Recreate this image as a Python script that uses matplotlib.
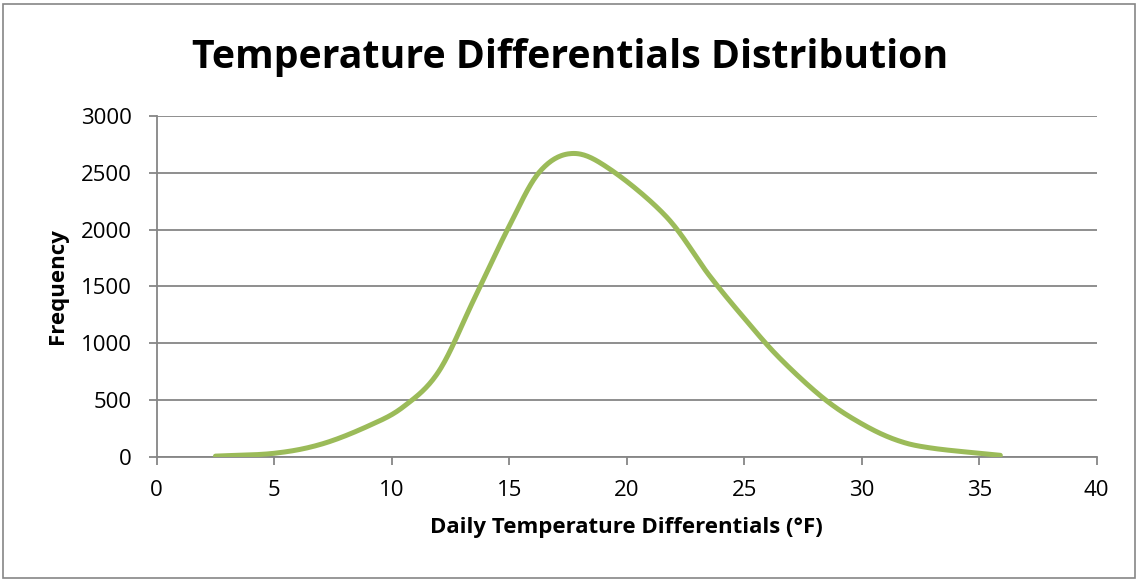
import numpy as np
import matplotlib
matplotlib.use("Agg")
import matplotlib.pyplot as plt
from matplotlib.patches import Rectangle

# Data
temp_diff = [2.5, 5, 7, 9, 10.5, 12, 13.5, 15, 16.3, 17.7, 19.3, 21.7,
             23.5, 25, 26.5, 28.4, 30, 31.5, 33, 35.9]
frequency = [5, 30, 110, 270, 440, 750, 1385, 2030, 2510, 2670, 2530, 2110,
             1600, 1220, 870, 510, 290, 145, 75, 12]
x_ticks = [0, 5, 10, 15, 20, 25, 30, 35, 40]
y_ticks = [0, 500, 1000, 1500, 2000, 2500, 3000]


def catmull_rom(xs, ys, n=30):
    xs = np.asarray(xs, float)
    ys = np.asarray(ys, float)
    px = np.concatenate([[2 * xs[0] - xs[1]], xs, [2 * xs[-1] - xs[-2]]])
    py = np.concatenate([[2 * ys[0] - ys[1]], ys, [2 * ys[-1] - ys[-2]]])
    outx, outy = [], []
    t = np.linspace(0, 1, n, endpoint=False)
    for i in range(1, len(px) - 2):
        for arr, out in ((px, outx), (py, outy)):
            p0, p1, p2, p3 = arr[i - 1], arr[i], arr[i + 1], arr[i + 2]
            out.extend(0.5 * ((2 * p1) + (-p0 + p2) * t
                              + (2 * p0 - 5 * p1 + 4 * p2 - p3) * t ** 2
                              + (-p0 + 3 * p1 - 3 * p2 + p3) * t ** 3))
    outx.append(xs[-1])
    outy.append(ys[-1])
    return np.array(outx), np.array(outy)


plt.rcParams['font.family'] = ['Open Sans', 'DejaVu Sans']

fig = plt.figure(figsize=(11.38, 5.8), dpi=100)
ax = fig.add_axes([0.1377, 0.2126, 0.8260, 0.5874])

sx, sy = catmull_rom(temp_diff, frequency)
ax.plot(sx, sy, color='#9BBB59', lw=3.6, solid_capstyle='round', zorder=3)

ax.set_xlim(0, 40)
ax.set_ylim(0, 3000)
ax.set_xticks(x_ticks)
ax.set_yticks(y_ticks)
ax.grid(axis='y', color='#868686', lw=1.3)
ax.set_axisbelow(True)
for s in ['top', 'right']:
    ax.spines[s].set_visible(False)
for s in ['left', 'bottom']:
    ax.spines[s].set_color('#868686')
    ax.spines[s].set_linewidth(1.3)
ax.tick_params(axis='both', colors='#868686', length=6, width=1.3,
               labelcolor='black', labelsize=16)
ax.tick_params(axis='x', pad=11)
ax.tick_params(axis='y', pad=12)

ax.set_xlabel('Daily Temperature Differentials (°F)', fontsize=16,
              fontweight='bold')
ax.xaxis.set_label_coords(0.5, -0.224)
ax.xaxis.label.set_verticalalignment('baseline')
ax.set_ylabel('Frequency', fontsize=16, fontweight='bold')
ax.yaxis.set_label_coords(-0.0994, 0.5)
ax.yaxis.label.set_verticalalignment('baseline')

fig.text(0.5013, 0.883, 'Temperature Differentials Distribution', ha='center',
         va='baseline', fontsize=28.3, fontweight='bold')

fig.patches.append(Rectangle((0.003, 0.004), 0.994, 0.989, transform=fig.transFigure,
                             fill=False, edgecolor='#868686', lw=1.2))

fig.savefig('out.png', dpi=100)
